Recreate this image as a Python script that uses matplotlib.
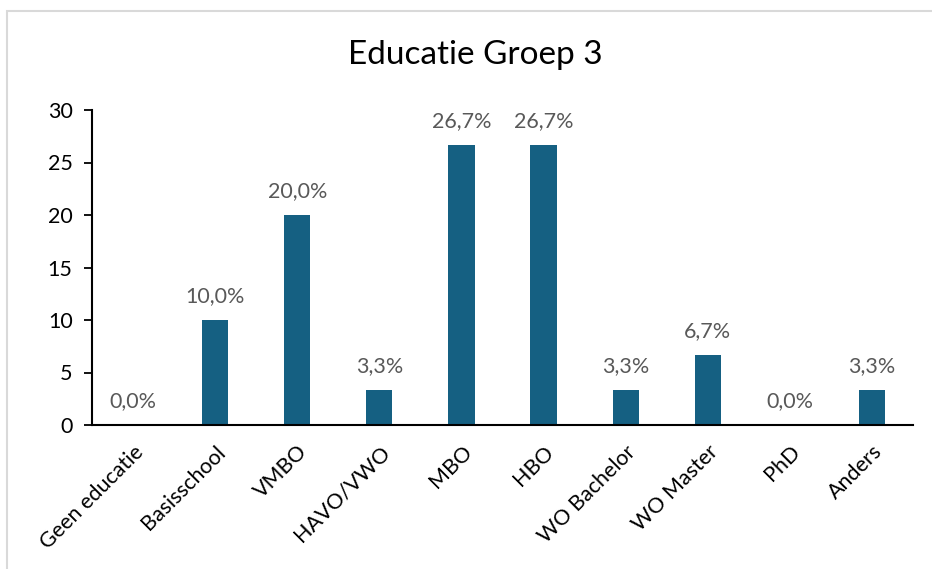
import matplotlib
matplotlib.use("Agg")
import matplotlib.pyplot as plt
from matplotlib.patches import Rectangle

categories = ["Geen educatie", "Basisschool", "VMBO", "HAVO/VWO", "MBO",
              "HBO", "WO Bachelor", "WO Master", "PhD", "Anders"]
percentages = [0.0, 10.0, 20.0, 3.3, 26.7, 26.7, 3.3, 6.7, 0.0, 3.3]
y_ticks = [0, 5, 10, 15, 20, 25, 30]

plt.rcParams["font.family"] = ["Lato", "DejaVu Sans"]

fig = plt.figure(figsize=(9.32, 5.69), dpi=100)
# light frame around the chart area, cut off at the bottom/right
fig.patches.append(Rectangle((7 / 932, -0.1), 1.2, 1.1 - 11 / 569, transform=fig.transFigure,
                             fill=False, edgecolor="#d9d9d9", linewidth=1.5))

ax = fig.add_axes([92 / 932, 1 - 425 / 569, 821 / 932, 315 / 569])
x = range(len(categories))
ax.bar(x, percentages, width=0.32, color="#156082", zorder=2)

for xi, v in zip(x, percentages):
    label = f"{v:.1f}%".replace(".", ",")
    ax.annotate(label, (xi, v), xytext=(0, 10), textcoords="offset points",
                ha="center", va="bottom", fontsize=15.5, color="#595959")

ax.set_xlim(-0.5, len(categories) - 0.5)
ax.set_ylim(0, 30)
ax.set_yticks(y_ticks)
ax.set_xticks(list(x))
ax.set_xticklabels(categories, rotation=45, ha="right", rotation_mode="anchor",
                   fontsize=15.5)
ax.tick_params(axis="y", labelsize=15.5, length=6, width=1.3, pad=8)
ax.tick_params(axis="x", length=0, pad=12)

for side in ("top", "right"):
    ax.spines[side].set_visible(False)
for side in ("left", "bottom"):
    ax.spines[side].set_linewidth(1.5)

fig.text(475 / 932, 1 - 55 / 569, "Educatie Groep 3", ha="center", va="center", fontsize=24)

fig.savefig("out.png", dpi=100)
